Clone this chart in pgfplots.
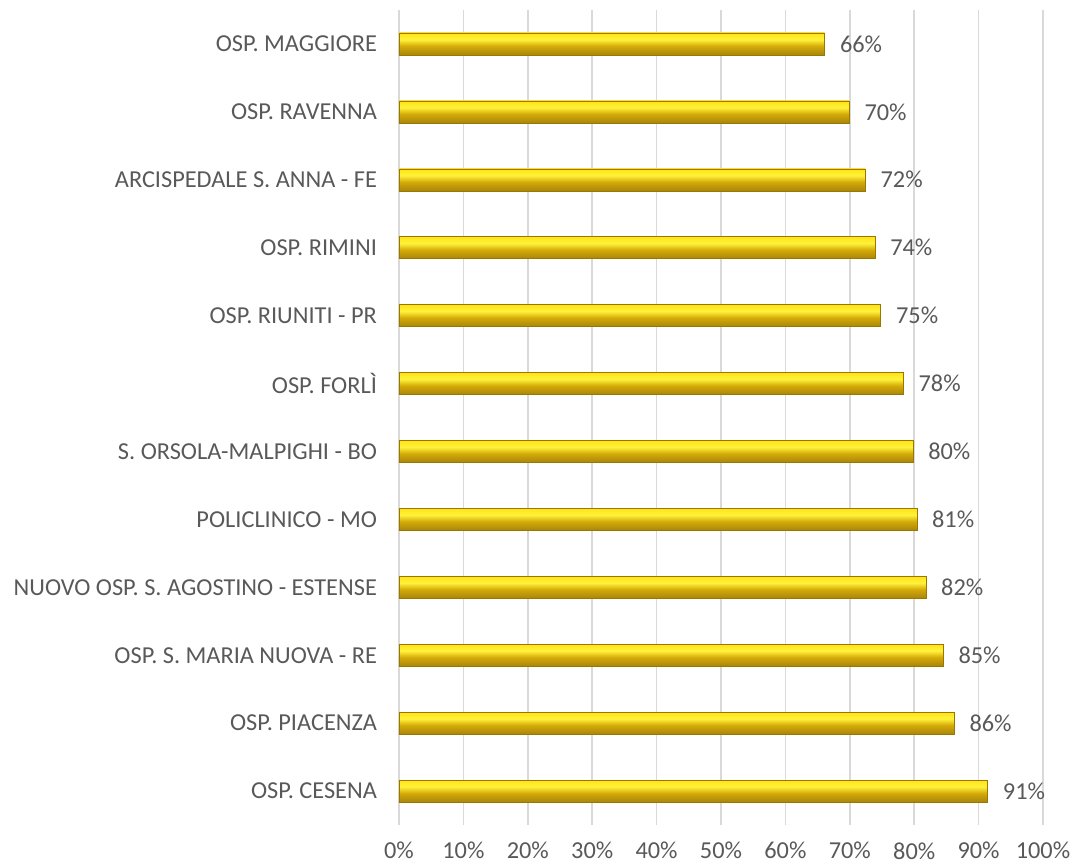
\documentclass[border=0pt]{standalone}
\usepackage{fontspec}
\setmainfont{Carlito}
\usepackage{pgfplots}
\pgfplotsset{compat=1.18}
\definecolor{txt}{HTML}{595959}
\definecolor{gridc}{HTML}{D9D9D9}
\definecolor{edge}{HTML}{9A7800}
\definecolor{ga}{HTML}{8C6D05}
\definecolor{gb}{HTML}{A8850C}
\definecolor{gc}{HTML}{D4AA08}
\definecolor{gd}{HTML}{FFF23A}
\definecolor{ge}{HTML}{FFE21A}
\definecolor{gf}{HTML}{F5C800}
\definecolor{gg}{HTML}{EDBE00}
\pgfdeclareverticalshading{goldbar}{100bp}{
  color(0bp)=(ga); color(25bp)=(gb); color(45bp)=(gc);
  color(60bp)=(gd); color(75bp)=(ge); color(90bp)=(gf); color(100bp)=(gg)}
\pgfplotsset{goldstyle/.style={xbar, bar width=16.5pt, bar shift=0pt, shading=goldbar, draw=edge, line width=0.4pt,
  nodes near coords, point meta=explicit symbolic,
  every node near coord/.style={anchor=west, xshift=8pt, font=\fontsize{18.25pt}{20pt}\selectfont, text=txt}}}
\begin{document}
\begin{tikzpicture}
\useasboundingbox (-299.25pt,-31.5pt) rectangle (506.25pt,618.75pt);
\begin{axis}[
  at={(0,0)}, anchor=south west,
  scale only axis, width=483pt, height=611.25pt,
  xmin=0, xmax=100, ymin=-0.5, ymax=11.5,
  xtick={0,10,...,100},
  xticklabel={\pgfmathprintnumber{\tick}\%},
  /pgf/number format/assume math mode=true,
  ytick={0,...,11},
  yticklabels={OSP. CESENA, OSP. PIACENZA, OSP. S. MARIA NUOVA - RE, NUOVO OSP. S. AGOSTINO - ESTENSE, POLICLINICO - MO, S. ORSOLA-MALPIGHI - BO, OSP. FORLÌ, OSP. RIUNITI - PR, OSP. RIMINI, ARCISPEDALE S. ANNA - FE, OSP. RAVENNA, OSP. MAGGIORE},
  axis line style={draw=none},
  major tick length=0pt,
  xmajorgrids, ymajorgrids=false, grid style={color=gridc, line width=1.1pt},
  tick label style={font=\fontsize{18.25pt}{20pt}\selectfont, text=txt},
  yticklabel style={xshift=-13pt},
  xticklabel style={yshift=-9.5pt},
  clip=false,
]
\addplot[goldstyle] table[meta=lab] {x y lab
91.4 0 91\%
};
\addplot[goldstyle] table[meta=lab] {x y lab
86.2 1 86\%
};
\addplot[goldstyle] table[meta=lab] {x y lab
84.5 2 85\%
};
\addplot[goldstyle] table[meta=lab] {x y lab
81.8 3 82\%
};
\addplot[goldstyle] table[meta=lab] {x y lab
80.4 4 81\%
};
\addplot[goldstyle] table[meta=lab] {x y lab
79.8 5 80\%
};
\addplot[goldstyle] table[meta=lab] {x y lab
78.3 6 78\%
};
\addplot[goldstyle] table[meta=lab] {x y lab
74.8 7 75\%
};
\addplot[goldstyle] table[meta=lab] {x y lab
73.9 8 74\%
};
\addplot[goldstyle] table[meta=lab] {x y lab
72.4 9 72\%
};
\addplot[goldstyle] table[meta=lab] {x y lab
69.9 10 70\%
};
\addplot[goldstyle] table[meta=lab] {x y lab
66.1 11 66\%
};
\end{axis}
\end{tikzpicture}
\end{document}
